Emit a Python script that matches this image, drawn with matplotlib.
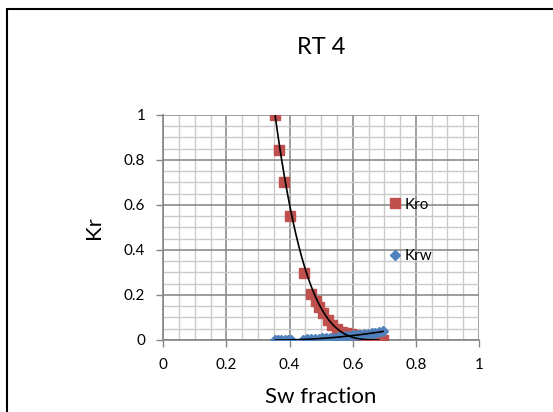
import numpy as np
import matplotlib
matplotlib.use("Agg")
import matplotlib.pyplot as plt
from matplotlib.ticker import MultipleLocator
from matplotlib.patches import Rectangle

plt.rcParams['font.family'] = ['Lato', 'DejaVu Sans']

title = "RT 4"
xlabel = "Sw fraction"
ylabel = "Kr"
tick_vals = [0, 0.2, 0.4, 0.6, 0.8, 1]
tick_labels = ['0', '0.2', '0.4', '0.6', '0.8', '1']

kro_sw = [0.354, 0.366, 0.382, 0.401, 0.446, 0.468, 0.483, 0.494, 0.507, 0.521,
          0.533, 0.549, 0.565, 0.580, 0.595, 0.610, 0.625, 0.640, 0.655, 0.670,
          0.685, 0.697]
kro = [1.0, 0.843, 0.704, 0.550, 0.296, 0.205, 0.175, 0.148, 0.118, 0.089,
       0.067, 0.047, 0.037, 0.032, 0.027, 0.022, 0.018, 0.014, 0.011, 0.008,
       0.005, 0.002]

krw_sw = [0.354, 0.364, 0.374, 0.384, 0.394, 0.404,
          0.444, 0.456, 0.468, 0.480, 0.492, 0.504, 0.516, 0.528, 0.540, 0.552,
          0.564, 0.576, 0.588, 0.600, 0.612, 0.624, 0.636, 0.648, 0.660, 0.672,
          0.684, 0.696]
krw = [0.0, 0.0, 0.0, 0.0, 0.0, 0.0,
       0.002, 0.003, 0.004, 0.005, 0.006, 0.007, 0.008, 0.010, 0.011, 0.013,
       0.014, 0.016, 0.018, 0.020, 0.022, 0.024, 0.026, 0.028, 0.030, 0.033,
       0.035, 0.038]

fig = plt.figure(figsize=(5.53, 4.12), dpi=100)
ax = fig.add_axes([0.2953, 0.1748, 0.5709, 0.5461])

# Corey-type fit for Kro
kx = np.array(kro_sw); ky = np.array(kro)
swc, swmax = kx.min(), 0.70
S = (kx - swc) / (swmax - swc)
sel = (ky > 0.03) & (S > 0)
lx = np.log(1 - S[sel]); ly = np.log(ky[sel])
n = np.sum(lx * ly) / np.sum(lx * lx)
xs = np.linspace(swc, 0.682, 300)
Ss = (xs - swc) / (swmax - swc)
ax.plot(xs, (1 - Ss) ** n, color='black', lw=1.2, zorder=4)
# polynomial fit for Krw
wx = np.array(krw_sw); wy = np.array(krw)
c2 = np.polyfit(wx, wy, 2)
xs2 = np.linspace(wx[0], wx[-1], 200)
ax.plot(xs2, np.polyval(c2, xs2), color='black', lw=1.2, zorder=4)

ax.plot(kro_sw, kro, 's', color='#c0504d', ms=6.8, mec='#c0504d', label='Kro', zorder=3)
ax.plot(krw_sw, krw, 'D', color='#4f81bd', ms=5.2, mec='#4f81bd', label='Krw', zorder=3)

ax.set_xlim(0, 1)
ax.set_ylim(0, 1)
ax.set_xticks(tick_vals)
ax.set_yticks(tick_vals)
ax.set_xticklabels(tick_labels)
ax.set_yticklabels(tick_labels)
ax.xaxis.set_minor_locator(MultipleLocator(0.05))
ax.yaxis.set_minor_locator(MultipleLocator(0.05))
ax.grid(which='major', color='#8c8c8c', lw=1.2)
ax.grid(which='minor', color='#cacaca', lw=1.0)
ax.set_axisbelow(True)
ax.tick_params(which='major', direction='out', length=5, color='#868686', width=1,
               labelsize=11, pad=8)
ax.tick_params(which='minor', length=0)
for s in ['top', 'right']:
    ax.spines[s].set_visible(False)
for s in ['left', 'bottom']:
    ax.spines[s].set_color('#868686')
    ax.spines[s].set_linewidth(1.2)

ax.text(0.5, 1.3, title, transform=ax.transAxes, fontsize=17, ha='center', va='center')
ax.set_xlabel(xlabel, fontsize=16, labelpad=11)
ax.set_ylabel(ylabel, fontsize=16, labelpad=14)

ax.legend(loc='upper left', bbox_to_anchor=(0.70, 0.66), frameon=False, fontsize=11,
          handlelength=0.6, handletextpad=0.3, labelspacing=2.45, borderaxespad=0)

fig.patches.append(Rectangle((6.5/553, -0.1), 1.2, (1 - 8.5/412) + 0.1,
                             transform=fig.transFigure, fill=False, ec='black', lw=1.5))

fig.savefig('out.png', dpi=100)
